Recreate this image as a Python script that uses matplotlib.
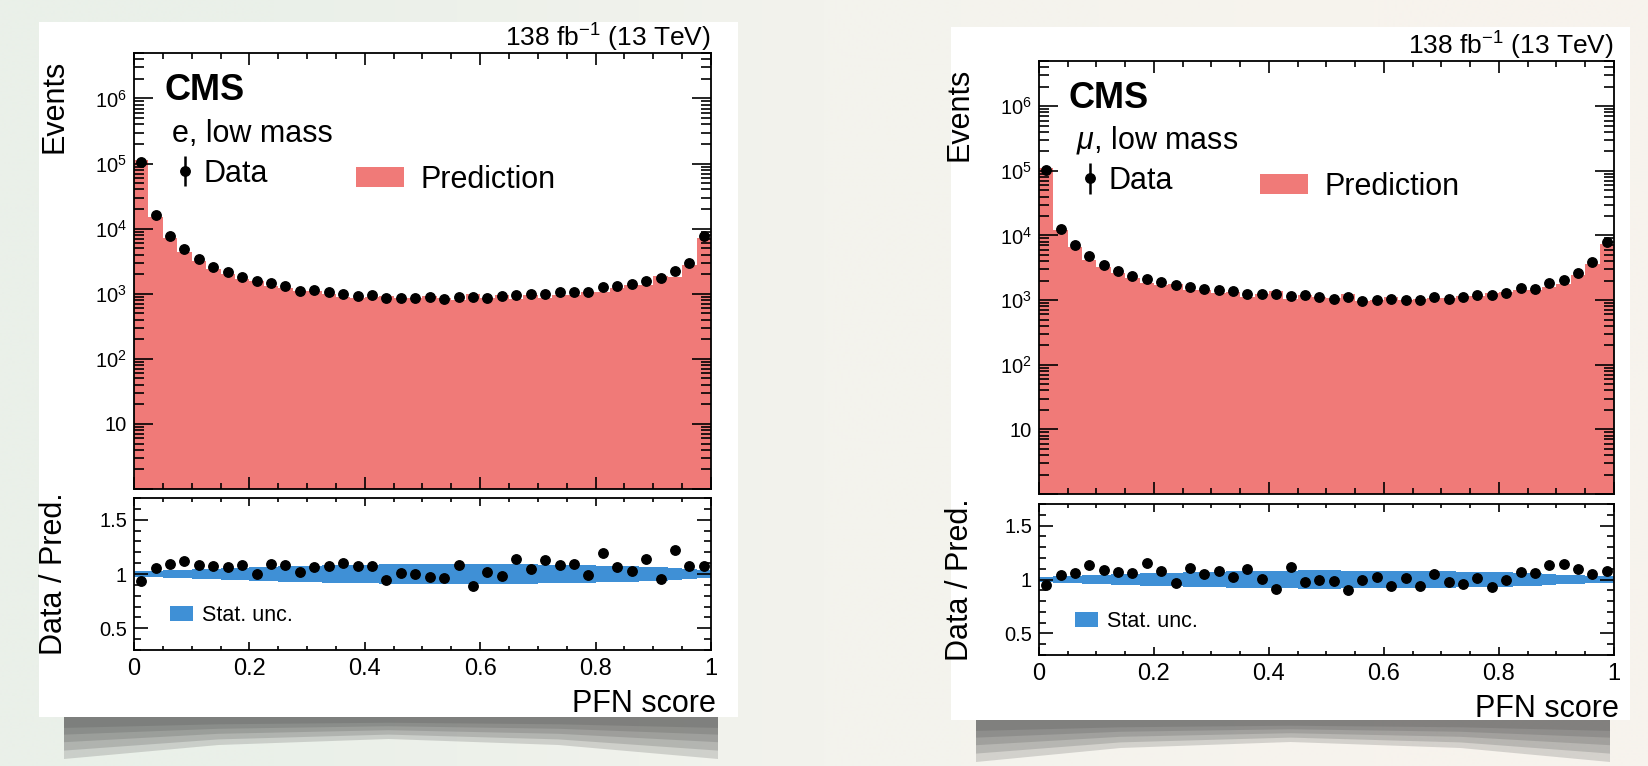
"""
PFN score distributions, electron and muon low-mass channels:
data vs prediction with a data/prediction ratio panel underneath.
"""
import matplotlib
matplotlib.use("Agg")
import matplotlib.pyplot as plt
import numpy as np
from matplotlib.patches import Rectangle, Polygon, Patch
from matplotlib.ticker import LogLocator, FuncFormatter, MultipleLocator, NullFormatter

plt.rcParams["font.family"] = ["Liberation Sans", "DejaVu Sans"]
plt.rcParams["mathtext.fontset"] = "custom"
plt.rcParams["mathtext.rm"] = "Liberation Sans"
plt.rcParams["mathtext.it"] = "Liberation Sans:italic"
plt.rcParams["mathtext.bf"] = "Liberation Sans:bold"

# 40 bins on [0, 1]
edges = np.linspace(0.0, 1.0, 41)

# electron channel: observed events and data / prediction
e_data = [1.06e5, 1.60e4, 7.80e3, 4.87e3, 3.41e3, 2.57e3, 2.13e3, 1.83e3, 1.57e3, 1.44e3,
          1.31e3, 1.12e3, 1.15e3, 1.06e3, 988, 933, 955, 858, 867, 867,
          900, 838, 879, 879, 867, 933, 955, 1000, 977, 1050,
          1050, 1060, 1250, 1310, 1390, 1550, 1760, 2230, 2930, 7.80e3]
e_ratio = [0.932, 1.056, 1.093, 1.120, 1.086, 1.077, 1.065, 1.086, 0.997, 1.096,
           1.086, 1.015, 1.062, 1.071, 1.105, 1.071, 1.071, 0.944, 1.009, 0.997,
           0.969, 0.960, 1.080, 0.892, 1.019, 0.985, 1.136, 1.046, 1.127, 1.086,
           1.096, 0.994, 1.191, 1.065, 1.028, 1.142, 0.951, 1.225, 1.071, 1.077]
e_unc = [0.025, 0.030, 0.035, 0.040, 0.045, 0.050, 0.054, 0.058, 0.062, 0.066,
         0.070, 0.073, 0.076, 0.079, 0.082, 0.085, 0.087, 0.089, 0.090, 0.091,
         0.092, 0.093, 0.093, 0.092, 0.092, 0.091, 0.090, 0.088, 0.086, 0.084,
         0.083, 0.081, 0.078, 0.075, 0.071, 0.067, 0.062, 0.056, 0.048, 0.035]

# muon channel
mu_data = [1.04e5, 1.27e4, 7.08e3, 4.79e3, 3.55e3, 2.80e3, 2.35e3, 2.14e3, 1.88e3, 1.71e3,
           1.59e3, 1.51e3, 1.41e3, 1.39e3, 1.24e3, 1.24e3, 1.24e3, 1.15e3, 1.18e3, 1.10e3,
           1.05e3, 1.13e3, 966, 1010, 1050, 1000, 988, 1130, 1050, 1100,
           1190, 1180, 1310, 1530, 1510, 1810, 2010, 2650, 3820, 7.98e3]
mu_ratio = [0.946, 1.042, 1.063, 1.134, 1.085, 1.070, 1.057, 1.156, 1.079, 0.967,
            1.104, 1.051, 1.082, 1.026, 1.098, 1.005, 0.912, 1.113, 0.974, 0.995,
            0.983, 0.902, 0.995, 1.023, 0.943, 1.011, 0.940, 1.051, 0.980, 0.958,
            1.011, 0.927, 0.992, 1.070, 1.063, 1.134, 1.144, 1.094, 1.048, 1.082]
mu_unc = [0.024, 0.028, 0.033, 0.038, 0.043, 0.048, 0.052, 0.056, 0.060, 0.064,
          0.067, 0.070, 0.073, 0.076, 0.078, 0.080, 0.082, 0.083, 0.084, 0.084,
          0.084, 0.083, 0.083, 0.082, 0.081, 0.080, 0.079, 0.077, 0.075, 0.073,
          0.071, 0.068, 0.065, 0.061, 0.057, 0.052, 0.046, 0.040, 0.034, 0.028]

PRED_COLOR = "#f07a78"
UNC_COLOR = "#3f90d6"
W, H = 1649, 766


def rect(x0, y0, x1, y1):
    return [x0 / W, 1 - y1 / H, (x1 - x0) / W, (y1 - y0) / H]


def log_fmt(v, pos):
    k = int(round(np.log10(v)))
    if k == 1:
        return "10"
    if k >= 2:
        return rf"$10^{{{k}}}$"
    return ""


def draw_paper(bg, x0, y0, x1, y1):
    # soft curled-paper shadow below the sheet (stacked translucent layers)
    xm = 0.5 * (x0 + x1)
    for f in (1.0, 0.8, 0.6, 0.42, 0.26):
        bg.add_patch(Polygon([(x0 + 25, y1), (x1 - 20, y1), (x1 - 20, y1 + 42 * f),
                              (xm + 170, y1 + 28 * f), (xm, y1 + 22 * f),
                              (xm - 170, y1 + 28 * f), (x0 + 25, y1 + 42 * f)],
                             closed=True, color="#4a4a4a", alpha=0.2, lw=0, zorder=1))
    bg.add_patch(Rectangle((x0, y0), x1 - x0, y1 - y0, color="white", lw=0, zorder=3))


def draw_panel(fig, main_box, ratio_box, data, ratio, unc, channel):
    data = np.asarray(data)
    ratio = np.asarray(ratio)
    unc = np.asarray(unc)
    pred = data / ratio
    centers = 0.5 * (edges[1:] + edges[:-1])

    ax = fig.add_axes(rect(*main_box))
    rx = fig.add_axes(rect(*ratio_box))

    # main panel
    ax.stairs(pred, edges, baseline=0.1, fill=True, color=PRED_COLOR, lw=0, zorder=1)
    data_h = ax.errorbar(centers, data, yerr=np.sqrt(data), fmt="o", color="k", ms=6.8,
                         elinewidth=1.8, capsize=0, zorder=3)
    ax.set_yscale("log")
    ax.set_xlim(0, 1)
    ax.set_ylim(1, 5e6)
    ax.yaxis.set_major_locator(LogLocator(base=10, numticks=20))
    ax.yaxis.set_minor_locator(LogLocator(base=10, subs=np.arange(2, 10), numticks=100))
    ax.yaxis.set_major_formatter(FuncFormatter(log_fmt))
    ax.yaxis.set_minor_formatter(NullFormatter())
    ax.xaxis.set_major_locator(MultipleLocator(0.2))
    ax.xaxis.set_minor_locator(MultipleLocator(0.05))
    ax.tick_params(which="both", direction="in", top=True, right=True, labelbottom=False,
                   width=1.2, labelsize=14.5, pad=5)
    ax.tick_params(axis="y", which="major", length=14)
    ax.tick_params(axis="y", which="minor", length=7)
    ax.tick_params(axis="x", which="major", length=8.5)
    ax.tick_params(axis="x", which="minor", length=4.3)
    for s in ax.spines.values():
        s.set_linewidth(1.3)
        s.set_zorder(5)

    ax.text(1.0, 1.014, r"138 fb$^{-1}$ (13 TeV)", transform=ax.transAxes,
            ha="right", va="baseline", fontsize=19)
    ax.text(0.052, 0.892, "CMS", transform=ax.transAxes, ha="left", va="baseline",
            fontsize=26, fontweight="bold")
    ax.text(0.065, 0.797, channel, transform=ax.transAxes, ha="left", va="baseline",
            fontsize=22)
    ax.text(-0.138, 0.985, "Events", transform=ax.transAxes, rotation=90,
            ha="center", va="top", fontsize=22)

    leg1 = ax.legend(handles=[data_h], labels=["Data"], loc="center left",
                     bbox_to_anchor=(0.073, 0.723), frameon=False, borderpad=0,
                     borderaxespad=0, handlelength=0.6, handletextpad=0.3, fontsize=22)
    ax.add_artist(leg1)
    ax.legend(handles=[Patch(color=PRED_COLOR, lw=0)], labels=["Prediction"],
              loc="center left", bbox_to_anchor=(0.385, 0.709), frameon=False,
              borderpad=0, borderaxespad=0, handlelength=1.57, handleheight=0.65,
              handletextpad=0.52, fontsize=22)

    # ratio panel
    rx.stairs(1 + unc, edges, baseline=1 - unc, fill=True, color=UNC_COLOR, lw=0, zorder=1)
    rx.errorbar(centers, ratio, yerr=ratio / np.sqrt(data), fmt="o", color="k", ms=6.8,
                elinewidth=1.8, capsize=0, zorder=3)
    rx.set_xlim(0, 1)
    rx.set_ylim(0.3, 1.7)
    rx.yaxis.set_major_locator(MultipleLocator(0.5))
    rx.yaxis.set_minor_locator(MultipleLocator(0.1))
    rx.yaxis.set_major_formatter(FuncFormatter(lambda v, p: f"{v:g}"))
    rx.xaxis.set_major_locator(MultipleLocator(0.2))
    rx.xaxis.set_minor_locator(MultipleLocator(0.05))
    rx.xaxis.set_major_formatter(FuncFormatter(lambda v, p: f"{v:g}"))
    rx.tick_params(which="both", direction="in", top=True, right=True, width=1.2)
    rx.tick_params(axis="y", which="major", length=10, labelsize=14.5, pad=5)
    rx.tick_params(axis="y", which="minor", length=5)
    rx.tick_params(axis="x", which="major", length=6, labelsize=17, pad=6)
    rx.tick_params(axis="x", which="minor", length=3.2)
    for s in rx.spines.values():
        s.set_linewidth(1.3)
        s.set_zorder(5)

    rx.legend(handles=[Patch(color=UNC_COLOR, lw=0)], labels=["Stat. unc."],
              loc="center left", bbox_to_anchor=(0.062, 0.224), frameon=False,
              borderpad=0, borderaxespad=0, handlelength=1.07, handleheight=0.7,
              handletextpad=0.42, fontsize=15.5)
    rx.text(1.009, -0.408, "PFN score", transform=rx.transAxes, ha="right",
            va="baseline", fontsize=22)
    rx.text(-0.138, 0.5, "Data / Pred.", transform=rx.transAxes, rotation=90,
            ha="center", va="center", fontsize=22)


fig = plt.figure(figsize=(W / 100, H / 100), dpi=100)

# background with the two paper sheets
bg = fig.add_axes([0, 0, 1, 1], zorder=-10)
bg.set_xlim(0, W)
bg.set_ylim(H, 0)
bg.axis("off")
grad = np.zeros((2, 3, 3))
grad[:, 0] = [234 / 255, 240 / 255, 233 / 255]
grad[:, 1] = [243 / 255, 243 / 255, 237 / 255]
grad[:, 2] = [247 / 255, 243 / 255, 237 / 255]
bg.imshow(grad, extent=(0, W, H, 0), aspect="auto", interpolation="bilinear", zorder=0)
draw_paper(bg, 39, 22, 738, 717)
draw_paper(bg, 951, 27, 1630, 720)

draw_panel(fig, (134, 53, 711, 489), (134, 498, 711, 650),
           e_data, e_ratio, e_unc, "e, low mass")
draw_panel(fig, (1039, 61, 1614, 494), (1039, 504, 1614, 655),
           mu_data, mu_ratio, mu_unc, r"$\mu$, low mass")

fig.savefig("out.png", dpi=100)
